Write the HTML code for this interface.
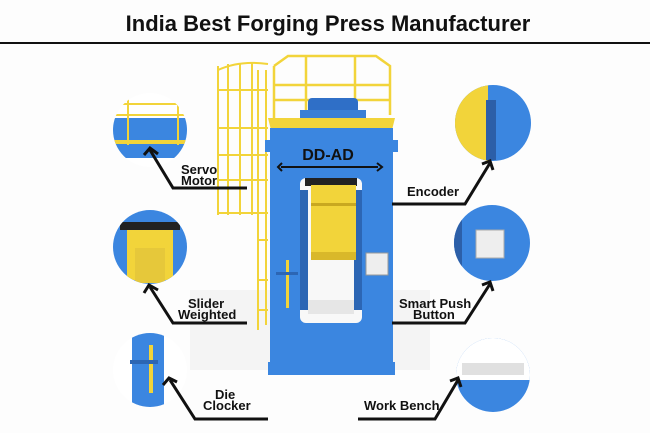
<!DOCTYPE html>
<html><head><style>
html,body{margin:0;padding:0;background:#fdfdfd;}
svg{display:block;font-family:"Liberation Sans",sans-serif;}
</style></head><body>
<svg width="650" height="433" viewBox="0 0 650 433" xmlns="http://www.w3.org/2000/svg">
<rect width="650" height="433" fill="#fdfdfd"/>
<text x="328" y="31" text-anchor="middle" font-size="22" font-weight="bold" fill="#111">India Best Forging Press Manufacturer</text>
<rect x="0" y="42" width="650" height="2" fill="#111"/>

<!-- floor shadow -->
<rect x="190" y="290" width="240" height="80" fill="#f4f4f4"/>

<!-- ladder cage -->
<g stroke="#f2d43a" stroke-width="2" fill="none">
<path d="M218 70 Q240 60 268 64"/>
<line x1="218" y1="66" x2="218" y2="215"/><line x1="228" y1="64" x2="228" y2="215"/><line x1="240" y1="63" x2="240" y2="215"/><line x1="252" y1="63" x2="252" y2="215"/>
<line x1="218" y1="90" x2="268" y2="90"/><line x1="218" y1="128" x2="268" y2="128"/><line x1="218" y1="155" x2="268" y2="155"/><line x1="218" y1="180" x2="268" y2="180"/><line x1="218" y1="213" x2="268" y2="213"/>
<line x1="258" y1="70" x2="258" y2="330"/><line x1="266" y1="70" x2="266" y2="325"/>
<line x1="258" y1="240" x2="268" y2="240"/><line x1="258" y1="280" x2="268" y2="280"/><line x1="258" y1="310" x2="268" y2="310"/>
</g>
<!-- top railing -->
<g stroke="#f2d43a" stroke-width="2.5" fill="none">
<path d="M274 66 L288 56 L376 56 L390 66 L390 115"/>
<line x1="274" y1="66" x2="274" y2="118"/>
<line x1="306" y1="56" x2="306" y2="110"/><line x1="355" y1="56" x2="355" y2="110"/>
<path d="M274 85 L390 85"/><path d="M274 100 L390 100"/>
</g>
<!-- top motor -->
<rect x="308" y="98" width="50" height="18" rx="4" fill="#2f6fc7"/>
<rect x="300" y="110" width="66" height="10" fill="#3a7fd6"/>
<path d="M268 118 L395 118 L392 130 L271 130 Z" fill="#f2d43a"/>
<!-- body -->
<rect x="270" y="128" width="123" height="240" fill="#3b86e0"/>
<rect x="265" y="140" width="6" height="12" fill="#3b86e0"/><rect x="392" y="140" width="6" height="12" fill="#3b86e0"/>
<rect x="268" y="362" width="127" height="13" fill="#3b86e0"/>
<rect x="300" y="178" width="62" height="145" rx="6" fill="#f8f8f8"/>
<rect x="305" y="178" width="52" height="8" fill="#222"/>
<rect x="300" y="190" width="8" height="120" fill="#2c66b4"/><rect x="354" y="190" width="8" height="120" fill="#2c66b4"/>
<rect x="311" y="185" width="45" height="70" fill="#f2d43a"/>
<rect x="311" y="203" width="45" height="3" fill="#c9a820"/>
<rect x="311" y="252" width="45" height="8" fill="#d9b82a"/>
<rect x="308" y="300" width="46" height="14" fill="#e6e6e6"/>
<rect x="366" y="253" width="22" height="22" fill="#eee" stroke="#999"/>
<rect x="286" y="260" width="3" height="48" fill="#f2d43a"/>
<rect x="276" y="272" width="22" height="3" fill="#2c66b4"/>
<!-- DD-AD -->
<text x="328" y="160" text-anchor="middle" font-size="16" font-weight="bold" fill="#111">DD-AD</text>
<line x1="281" y1="167" x2="378" y2="167" stroke="#111" stroke-width="2"/>
<path d="M282 163 L278 167 L282 171" fill="none" stroke="#111" stroke-width="2"/>
<path d="M377 163 L382 167 L377 171" fill="none" stroke="#111" stroke-width="2"/>

<!-- circles -->
<defs>
<clipPath id="c1"><circle cx="150" cy="130" r="37"/></clipPath>
<clipPath id="c2"><circle cx="493" cy="123" r="38"/></clipPath>
<clipPath id="c3"><circle cx="150" cy="247" r="37"/></clipPath>
<clipPath id="c4"><circle cx="492" cy="243" r="38"/></clipPath>
<clipPath id="c5"><circle cx="150" cy="370" r="37"/></clipPath>
<clipPath id="c6"><circle cx="493" cy="375" r="37"/></clipPath>
</defs>
<g clip-path="url(#c1)"><rect x="110" y="90" width="80" height="80" fill="#fff"/><rect x="113" y="118" width="74" height="40" fill="#3b86e0"/><rect x="113" y="140" width="74" height="4" fill="#f2d43a"/><g stroke="#f2d43a" stroke-width="2"><line x1="113" y1="104" x2="187" y2="104"/><line x1="113" y1="115" x2="187" y2="115"/><line x1="128" y1="95" x2="128" y2="145"/><line x1="178" y1="100" x2="178" y2="145"/></g></g>
<g clip-path="url(#c2)"><rect x="453" y="83" width="80" height="80" fill="#3b86e0"/><rect x="453" y="83" width="35" height="80" fill="#f2d43a"/><rect x="486" y="100" width="10" height="60" fill="#2c5fa8"/></g>
<g clip-path="url(#c3)"><rect x="110" y="207" width="80" height="80" fill="#3b86e0"/><rect x="120" y="222" width="60" height="8" fill="#222"/><rect x="127" y="230" width="46" height="50" fill="#f2d43a"/><rect x="135" y="248" width="30" height="35" fill="#e6c83a"/></g>
<g clip-path="url(#c4)"><rect x="452" y="203" width="80" height="80" fill="#3b86e0"/><rect x="476" y="230" width="28" height="28" fill="#eee" stroke="#aaa"/><rect x="452" y="203" width="10" height="80" fill="#2c5fa8"/></g>
<g clip-path="url(#c5)"><rect x="110" y="330" width="80" height="80" fill="#fff"/><rect x="132" y="333" width="32" height="74" fill="#3b86e0"/><rect x="149" y="345" width="4" height="48" fill="#f2d43a"/><rect x="130" y="360" width="28" height="4" fill="#2c66b4"/></g>
<g clip-path="url(#c6)"><rect x="453" y="335" width="80" height="80" fill="#3b86e0"/><rect x="453" y="335" width="80" height="45" fill="#fff"/><rect x="462" y="363" width="62" height="12" fill="#e0e0e0"/></g>

<!-- connectors -->
<g stroke="#111" stroke-width="3" fill="none" stroke-linejoin="miter">
<path d="M247 188 L173 188 L150 150"/><path d="M144 155 L150 148 L158 154"/>
<path d="M392 204 L465 204 L490 163"/><path d="M482 164 L490 161 L493 170"/>
<path d="M247 323 L173 323 L150 287"/><path d="M144 293 L149 285 L158 290"/>
<path d="M392 323 L465 323 L490 284"/><path d="M482 285 L490 282 L493 291"/>
<path d="M268 419 L195 419 L170 380"/><path d="M163 385 L169 378 L177 382"/>
<path d="M358 419 L435 419 L458 380"/><path d="M450 381 L458 378 L461 387"/>
</g>
<g font-size="13" font-weight="bold" fill="#111">
<text x="181" y="174">Servo</text><text x="181" y="185">Motor</text>
<text x="407" y="196">Encoder</text>
<text x="188" y="308">Slider</text><text x="178" y="319">Weighted</text>
<text x="399" y="308">Smart Push</text><text x="413" y="319">Button</text>
<text x="215" y="399">Die</text><text x="203" y="410">Clocker</text>
<text x="364" y="410">Work Bench</text>
</g>
</svg>
</body></html>
